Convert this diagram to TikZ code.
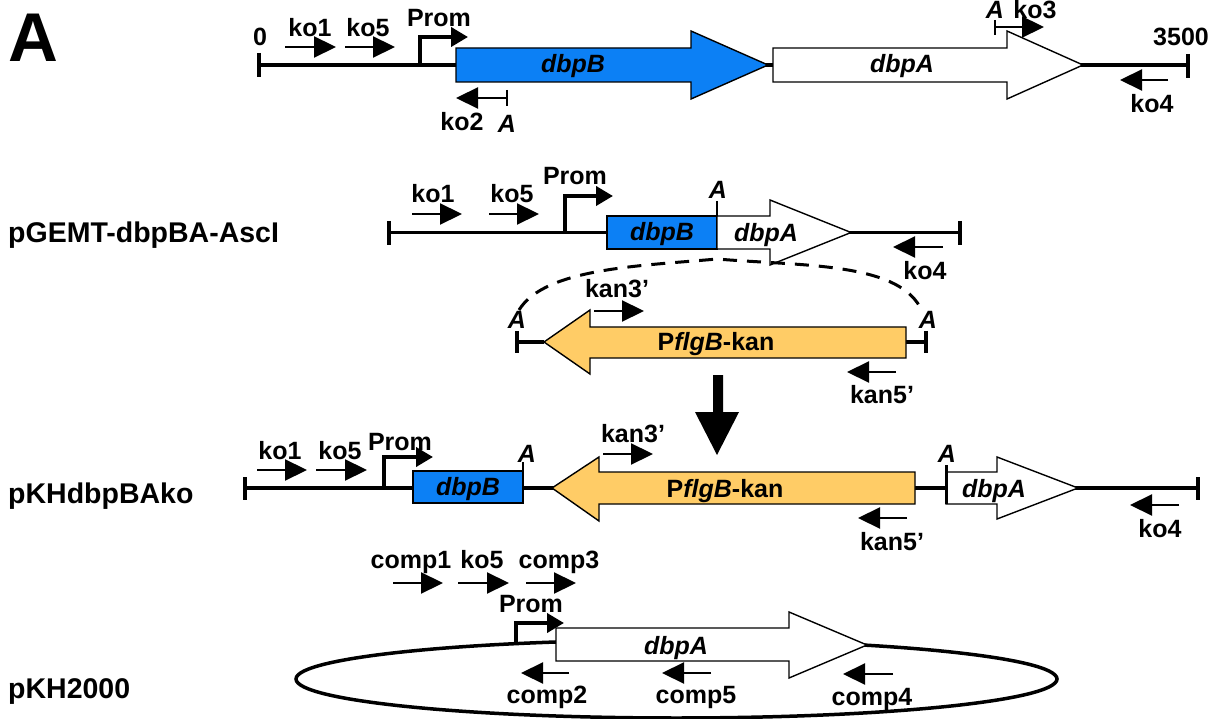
\documentclass[tikz,border=0pt]{standalone}
\usepackage{fontspec}
\setmainfont{Liberation Sans}
\usetikzlibrary{arrows.meta}
\definecolor{geneblue}{RGB}{12,128,245}
\definecolor{kanorange}{RGB}{255,204,102}
\begin{document}
\begin{tikzpicture}[x=1pt,y=-1pt,
  base/.style={line width=3.5pt},
  endtick/.style={line width=3.5pt},
  sitetick/.style={line width=2.4pt},
  primer/.style={line width=2.2pt,-{Triangle[length=22pt,width=21pt]}},
  prom/.style={line width=4pt,-{Triangle[length=17pt,width=19pt]},line join=miter},
  gene/.style={draw=black,line width=1.4pt,line join=miter},
  lab/.style={font=\fontsize{25}{27}\selectfont\bfseries,inner sep=0pt,anchor=base},
  ilab/.style={inner sep=0pt,anchor=base,font=\fontsize{25}{27}\selectfont\bfseries\itshape},
  rowlab/.style={font=\fontsize{28.5}{30}\selectfont\bfseries,inner sep=0pt,anchor=base west},
]
\useasboundingbox (0,0) rectangle (1221,719);

% ---------- Row 1 ----------
\node[font=\fontsize{69}{71}\selectfont\bfseries,anchor=base west,inner sep=0pt] (panel) at (8,62) {A};
\draw[base] (259,65) -- (1188,65);
\draw[endtick] (259,53) -- (259,77);
\draw[endtick] (1188,54) -- (1188,78);
\draw[gene,fill=geneblue] (456,48) -- (691,48) -- (691,31) -- (768,65) -- (691,99) -- (691,82) -- (456,82) -- cycle;
\draw[gene,fill=white] (773,48) -- (1007,48) -- (1007,31) -- (1083,65) -- (1007,99) -- (1007,82) -- (773,82) -- cycle;
\draw[primer] (285,47) -- (336,47);
\draw[primer] (345,47) -- (395,47);
\draw[prom] (420,65) -- (420,37) -- (468,37);
\draw[sitetick] (507,90) -- (507,106);
\draw[primer] (507,98) -- (456,98);
\draw[sitetick] (995,20) -- (995,35);
\draw[primer] (995,27) -- (1044,27);
\draw[primer] (1168,80) -- (1120,80);
\node[lab] (zero) at (260,46) {0};
\node[lab] (t3500) at (1181,46) {3500};
\node[lab] (ko1a) at (310,37) {ko1};
\node[lab] (ko5a) at (368,37) {ko5};
\node[lab] (proma) at (439,27) {Prom};
\node[ilab] (dbpBa) at (573,73) {dbpB};
\node[ilab] (dbpAa) at (902,73) {dbpA};
\node[ilab] (A3) at (995,18.5) {A};
\node[lab] (ko3) at (1035,18.5) {ko3};
\node[lab] (ko2) at (462,131) {ko2};
\node[ilab] (A2) at (507,133) {A};
\node[lab] (ko4a) at (1152,113) {ko4};

% ---------- Row 2 ----------
\node[rowlab] (r2) at (8,243) {pGEMT-dbpBA-AscI};
\draw[base] (389,232.5) -- (960,232.5);
\draw[endtick] (389,221) -- (389,245);
\draw[endtick] (960,221) -- (960,245);
\draw[gene,fill=geneblue] (607,216) rectangle (717,249);
\draw[gene,fill=white] (717,216) -- (770,216) -- (770,200) -- (851,232.5) -- (770,265) -- (770,249) -- (717,249) -- cycle;
\draw[sitetick] (717,201) -- (717,216);
\draw[primer] (412,214) -- (462,214);
\draw[primer] (489,214) -- (539,214);
\draw[prom] (565,232.5) -- (565,196) -- (613,196);
\draw[primer] (943,247) -- (893,247);
\node[lab] (ko1b) at (433,203) {ko1};
\node[lab] (ko5b) at (512,203) {ko5};
\node[lab] (promb) at (575,185) {Prom};
\node[ilab] (Ab) at (718,199) {A};
\node[ilab] (dbpBb) at (662,241) {dbpB};
\node[ilab] (dbpAb) at (766,242) {dbpA};
\node[lab] (ko4b) at (925,280) {ko4};
\draw[dashed,line width=3pt,dash pattern=on 14pt off 10pt] (519,310) .. controls (545,268) and (640,266) .. (717,259) .. controls (800,266) and (895,262) .. (920,307);

% ---------- Row 3 ----------
\draw[base] (517,342) -- (544,342);
\draw[base] (906,342) -- (926,342);
\draw[endtick] (517,331) -- (517,353);
\draw[endtick] (926,331) -- (926,353);
\draw[gene,fill=kanorange] (544,342) -- (590,310) -- (590,327) -- (906,327) -- (906,358) -- (590,358) -- (590,374) -- cycle;
\draw[primer] (594,311) -- (644,311);
\draw[primer] (896,372) -- (847,372);
\node[ilab] (Ac) at (517,329) {A};
\node[ilab] (Ad) at (928,329) {A};
\node[lab] (kanc) at (716,351) {P\textit{flgB}-kan};
\node[lab] (kan3c) at (617,298) {kan3’};
\node[lab] (kan5c) at (882,403) {kan5’};
\fill (713,375) -- (723,375) -- (723,412) -- (739,412) -- (717,455) -- (695,412) -- (713,412) -- cycle;

% ---------- Row 4 ----------
\node[rowlab] (r4) at (8,503) {pKHdbpBAko};
\draw[base] (245,488) -- (1198,488);
\draw[endtick] (245,477) -- (245,500);
\draw[endtick] (1198,477) -- (1198,500);
\draw[gene,fill=geneblue] (413,471) rectangle (523,503);
\draw[sitetick] (523,462) -- (523,471);
\draw[gene,fill=kanorange] (552,488) -- (599,457) -- (599,472) -- (915,472) -- (915,504) -- (599,504) -- (599,521) -- cycle;
\draw[gene,fill=white] (946,472) -- (997,472) -- (997,457) -- (1078,488) -- (997,519) -- (997,504) -- (946,504) -- cycle;
\draw[line width=3pt] (946,465) -- (946,504);
\draw[primer] (257,470) -- (307,470);
\draw[primer] (316,470) -- (367,470);
\draw[primer] (603,454) -- (653,454);
\draw[primer] (907,518) -- (858,518);
\draw[primer] (1179,505) -- (1130,505);
\draw[prom] (384,488) -- (384,457) -- (433,457);
\node[lab] (ko1d) at (280,459) {ko1};
\node[lab] (ko5d) at (340,459) {ko5};
\node[lab] (promd) at (400,450) {Prom};
\node[ilab] (Ae) at (527,462) {A};
\node[ilab] (dbpBd) at (468,495) {dbpB};
\node[lab] (kan3d) at (633,442) {kan3’};
\node[lab] (kand) at (725,497) {P\textit{flgB}-kan};
\node[ilab] (Af) at (947,462) {A};
\node[ilab] (dbpAd) at (994,497) {dbpA};
\node[lab] (kan5d) at (892,550) {kan5’};
\node[lab] (ko4d) at (1160,537) {ko4};

% ---------- Row 5 ----------
\node[rowlab] (r5) at (8,698) {pKH2000};
\draw[line width=3.5pt] (676.5,679) ellipse [x radius=380.5pt, y radius=39pt];
\draw[gene,fill=white] (556,628) -- (789,628) -- (789,612) -- (867,645) -- (789,678) -- (789,661) -- (556,661) -- cycle;
\draw[prom] (516,643) -- (516,623) -- (564,623);
\draw[primer] (393,583) -- (443,583);
\draw[primer] (458,583) -- (509,583);
\draw[primer] (526,583) -- (576,583);
\draw[primer] (569,673) -- (521,673);
\draw[primer] (711,673) -- (662,673);
\draw[primer] (893,674) -- (843,674);
\node[lab] (comp1) at (411,568) {comp1};
\node[lab] (ko5e) at (482,568) {ko5};
\node[lab] (comp3) at (559,568) {comp3};
\node[lab] (prome) at (531,612) {Prom};
\node[ilab] (dbpAe) at (676,654) {dbpA};
\node[lab] (comp2) at (547,703) {comp2};
\node[lab] (comp5) at (696,703) {comp5};
\node[lab] (comp4) at (872,705) {comp4};
\end{tikzpicture}
\end{document}
